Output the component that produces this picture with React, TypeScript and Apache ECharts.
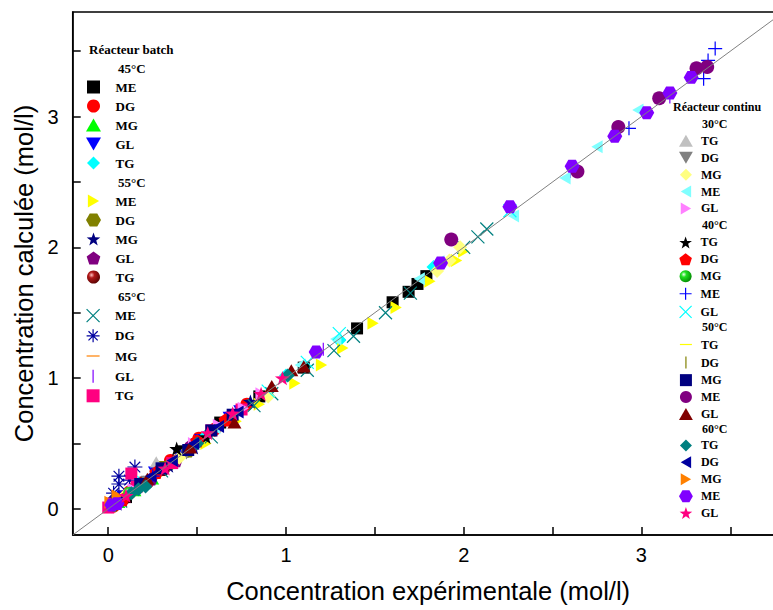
import React, { useEffect, useRef } from 'react';
import * as echarts from 'echarts';

// ---------- axes ----------
const X_TICKS = [0, 0.5, 1, 1.5, 2, 2.5, 3, 3.5];
const X_LABELS = [0, 1, 2, 3];
const Y_TICKS = [0, 0.5, 1, 1.5, 2, 2.5, 3, 3.5];
const Y_LABELS = [0, 1, 2, 3];
const PARITY = [[-0.2, -0.2], [3.8, 3.8]];

// ---------- Réacteur batch ----------
// 45°C
const B45_ME = [[0.02, 0.03], [0.1, 0.09], [0.42, 0.44], [0.63, 0.66], [0.85, 0.86], [1.1, 1.08], [1.4, 1.38], [1.6, 1.58], [1.69, 1.66], [1.74, 1.72], [1.79, 1.78]];
const B45_DG = [[0.03, 0.02], [0.12, 0.13], [0.22, 0.2], [0.35, 0.37], [0.51, 0.54], [0.6, 0.61], [0.78, 0.8]];
const B45_MG = [[0.01, 0.02], [0.06, 0.05], [0.15, 0.14], [0.25, 0.23], [0.33, 0.34]];
const B45_GL = [[0.02, 0.01], [0.08, 0.1], [0.16, 0.17], [0.26, 0.28], [0.4, 0.41], [0.52, 0.53], [0.68, 0.7], [0.74, 0.75]];
const B45_TG = [[0.05, 0.06], [0.18, 0.18], [0.55, 0.56], [1.0, 1.02], [1.3, 1.29], [1.83, 1.85]];
// 55°C
const B55_ME = [[0.12, 0.1], [0.3, 0.27], [0.55, 0.5], [0.72, 0.67], [0.85, 0.8], [1.05, 0.96], [1.2, 1.1], [1.32, 1.23], [1.49, 1.42], [1.62, 1.54], [1.81, 1.74], [1.96, 1.9], [2.0, 1.97]];
const B55_DG = [[0.04, 0.05], [0.14, 0.15], [0.3, 0.32], [0.45, 0.44]];
const B55_MG = [[0.05, 0.04], [0.2, 0.2], [0.34, 0.33], [0.48, 0.47], [0.69, 0.7], [0.8, 0.82]];
const B55_GL = [[0.03, 0.04], [0.11, 0.12], [0.24, 0.23], [0.38, 0.37], [0.47, 0.49]];
const B55_TG = [[0.02, 0.03], [0.09, 0.08], [0.19, 0.2], [0.31, 0.3]];
// 65°C
const B65_ME = [[0.07, 0.06], [0.3, 0.29], [0.58, 0.55], [0.82, 0.79], [0.92, 0.88], [1.12, 1.06], [1.27, 1.21], [1.38, 1.32], [1.56, 1.5], [1.7, 1.65], [2.0, 2.0], [2.08, 2.08], [2.13, 2.14]];
const B65_DG = [[0.04, 0.05], [0.06, 0.19], [0.06, 0.25], [0.15, 0.32], [0.12, 0.22], [0.03, 0.12]];
const B65_MG = [[0.05, 0.05], [0.2, 0.21], [0.4, 0.4]];
const B65_GL = [[0.02, 0.02], [0.1, 0.11], [0.3, 0.3], [1.21, 1.22], [2.6, 2.58], [3.16, 3.15]];
const B65_TG = [[0.0, 0.01], [0.13, 0.27], [0.02, 0.04], [0.16, 0.17], [0.36, 0.35], [0.58, 0.6], [0.75, 0.76]];

// ---------- Réacteur continu ----------
// 30°C
const C30_TG = [[0.07, 0.08], [0.27, 0.36], [0.58, 0.6]];
const C30_DG = [[0.05, 0.04], [0.22, 0.21], [0.44, 0.42]];
const C30_MG = [[0.1, 0.11], [0.4, 0.39], [0.9, 0.86], [1.85, 1.82], [1.92, 1.9], [1.98, 2.0]];
const C30_ME = [[0.6, 0.62], [1.08, 1.1], [1.28, 1.3], [1.75, 1.76], [1.86, 1.89], [2.28, 2.24], [2.57, 2.53], [2.75, 2.77], [2.98, 3.05]];
const C30_GL = [[0.14, 0.15], [0.48, 0.5], [0.62, 0.64], [0.76, 0.77], [0.86, 0.88]];
// 40°C
const C40_TG = [[0.1, 0.1], [0.385, 0.46], [0.55, 0.55]];
const C40_DG = [[0.08, 0.07], [0.27, 0.28], [0.5, 0.52], [0.66, 0.68]];
const C40_MG = [[0.03, 0.03], [0.12, 0.12]];
const C40_ME = [[0.25, 0.25], [2.93, 2.91], [3.35, 3.29], [3.375, 3.43], [3.415, 3.52]];
const C40_GL = [[0.2, 0.2], [0.9, 0.9], [1.12, 1.12], [1.3, 1.34], [2.26, 2.28]];
// 50°C
const C50_TG = [[0.1, 0.1], [0.5, 0.5]];
const C50_DG = [[0.15, 0.15], [0.6, 0.6]];
const C50_MG = [[0.05, 0.06], [0.18, 0.19], [0.3, 0.31], [0.45, 0.45], [0.58, 0.6], [0.7, 0.72]];
const C50_ME = [[1.93, 2.06], [2.64, 2.58], [2.87, 2.92], [3.1, 3.14], [3.31, 3.37], [3.37, 3.38]];
const C50_GL = [[0.22, 0.23], [0.46, 0.47], [0.71, 0.66], [0.92, 0.94], [1.03, 1.06], [1.1, 1.09]];
// 60°C
const C60_TG = [[0.13, 0.12], [0.17, 0.15], [0.21, 0.17], [0.5, 0.5], [1.01, 1.02]];
const C60_DG = [[0.04, 0.04], [0.24, 0.25], [0.36, 0.37], [0.48, 0.5], [0.62, 0.63], [0.73, 0.74]];
const C60_MG = [[0.01, 0.05], [0.05, 0.1]];
const C60_ME = [[0.02, 0.03], [0.05, 0.04], [1.17, 1.2], [1.87, 1.88], [2.26, 2.31], [2.61, 2.62], [2.85, 2.85], [3.03, 3.03], [3.16, 3.18], [3.28, 3.3]];
const C60_GL = [[0.1, 0.1], [0.32, 0.31], [0.56, 0.58], [0.7, 0.73], [0.86, 0.88], [0.98, 1.0]];

// ---------- symbols / styles ----------
const SYM: Record<string, string> = {
  square: 'path://M-10,-10L10,-10L10,10L-10,10Z',
  circle: 'circle',
  tri: 'path://M0,-10L10,7.32L-10,7.32Z',
  itri: 'path://M-10,-7.32L10,-7.32L0,10Z',
  diamond: 'path://M0,-10L10,0L0,10L-10,0Z',
  rtri: 'path://M-7.32,-10L10,0L-7.32,10Z',
  ltri: 'path://M7.32,-10L-10,0L7.32,10Z',
  hex: 'path://M-10,0L-5,-8.66L5,-8.66L10,0L5,8.66L-5,8.66Z',
  star: 'path://M0,-10L2.35,-3.24L9.51,-3.09L3.8,1.23L5.88,8.09L0,4L-5.88,8.09L-3.8,1.23L-9.51,-3.09L-2.35,-3.24Z',
  pent: 'path://M0,-10L9.51,-3.09L5.88,8.09L-5.88,8.09L-9.51,-3.09Z',
  x: 'path://M-10,-10L10,10M10,-10L-10,10',
  plus: 'path://M-10,0L10,0M0,-10L0,10',
  ast: 'path://M-10,0L10,0M0,-10L0,10M-7.07,-7.07L7.07,7.07M7.07,-7.07L-7.07,7.07',
  hline: 'path://M-10,0L10,0M0,-10M0,10',
  vline: 'path://M0,-10L0,10M-10,0M10,0',
};
const STROKED = ['x', 'plus', 'ast', 'hline', 'vline'];

const sphere = (hi: string, mid: string, lo: string) => ({
  type: 'radial', x: 0.35, y: 0.35, r: 0.75,
  colorStops: [{ offset: 0, color: hi }, { offset: 0.3, color: mid }, { offset: 1, color: lo }],
});

type Def = { key: string; label: string; data: number[][]; sym: string; color: any; edge: string; size: number };
const d = (key: string, data: number[][], sym: string, color: any, size: number, edge?: string): Def =>
  ({ key, label: key.split('|')[0], data, sym, color, edge: edge || color, size });

const LEFT_GROUPS: { title: string; items: Def[] }[] = [
  { title: '45°C', items: [
    d('ME|b45', B45_ME, 'square', '#000000', 12),
    d('DG|b45', B45_DG, 'circle', '#FF0000', 13),
    d('MG|b45', B45_MG, 'tri', '#00FF00', 13),
    d('GL|b45', B45_GL, 'itri', '#0000FF', 13),
    d('TG|b45', B45_TG, 'diamond', '#00FFFF', 14),
  ] },
  { title: '55°C', items: [
    d('ME|b55', B55_ME, 'rtri', '#FFFF00', 13),
    d('DG|b55', B55_DG, 'hex', '#808000', 14),
    d('MG|b55', B55_MG, 'star', '#000080', 15),
    d('GL|b55', B55_GL, 'pent', '#800080', 14),
    d('TG|b55', B55_TG, 'circle', sphere('#ffc0c0', '#b01818', '#500000'), 13, '#600000'),
  ] },
  { title: '65°C', items: [
    d('ME|b65', B65_ME, 'x', '#008080', 13),
    d('DG|b65', B65_DG, 'ast', '#0000A0', 15),
    d('MG|b65', B65_MG, 'hline', '#FF8000', 13),
    d('GL|b65', B65_GL, 'vline', '#8000FF', 13),
    d('TG|b65', B65_TG, 'square', '#FF0080', 12),
  ] },
];

const RIGHT_GROUPS: { title: string; items: Def[] }[] = [
  { title: '30°C', items: [
    d('TG|c30', C30_TG, 'tri', '#C0C0C0', 13),
    d('DG|c30', C30_DG, 'itri', '#808080', 13),
    d('MG|c30', C30_MG, 'diamond', '#FFFF80', 14),
    d('ME|c30', C30_ME, 'ltri', '#80FFFF', 13),
    d('GL|c30', C30_GL, 'rtri', '#FF80FF', 13),
  ] },
  { title: '40°C', items: [
    d('TG|c40', C40_TG, 'star', '#000000', 15),
    d('DG|c40', C40_DG, 'pent', '#FF0000', 14),
    d('MG|c40', C40_MG, 'circle', sphere('#f0fff0', '#20e020', '#008000'), 13, '#009000'),
    d('ME|c40', C40_ME, 'plus', '#0000FF', 14),
    d('GL|c40', C40_GL, 'x', '#00FFFF', 13),
  ] },
  { title: '50°C', items: [
    d('TG|c50', C50_TG, 'hline', '#FFFF00', 13),
    d('DG|c50', C50_DG, 'vline', '#808000', 13),
    d('MG|c50', C50_MG, 'square', '#000080', 12),
    d('ME|c50', C50_ME, 'circle', '#800080', 14),
    d('GL|c50', C50_GL, 'tri', '#800000', 14),
  ] },
  { title: '60°C', items: [
    d('TG|c60', C60_TG, 'diamond', '#008080', 14),
    d('DG|c60', C60_DG, 'ltri', '#0000A0', 13),
    d('MG|c60', C60_MG, 'rtri', '#FF8000', 13),
    d('ME|c60', C60_ME, 'hex', '#8000FF', 15),
    d('GL|c60', C60_GL, 'star', '#FF0080', 15),
  ] },
];

const SERIF = "'Liberation Serif', 'Times New Roman', serif";
const SANS = "'Liberation Sans', Arial, sans-serif";

function buildOption() {
  const all: Def[] = [...LEFT_GROUPS, ...RIGHT_GROUPS].flatMap((g) => g.items);
  const series: any[] = all.map((s) => {
    const stroked = STROKED.includes(s.sym);
    return {
      type: 'scatter',
      name: s.key,
      data: s.data,
      symbol: SYM[s.sym],
      symbolSize: s.size,
      symbolKeepAspect: true,
      itemStyle: {
        color: stroked ? 'rgba(0,0,0,0)' : s.color,
        borderColor: s.edge,
        borderWidth: stroked ? 1.2 : 0,
        opacity: 1,
      },
      emphasis: { disabled: true },
    };
  });
  series.push({
    type: 'line',
    data: PARITY,
    symbol: 'none',
    lineStyle: { color: '#808080', width: 1 },
    z: 5,
    silent: true,
  });

  const legendText = (size: number) => ({
    fontFamily: SERIF, fontWeight: 'bold', fontSize: size, color: '#000', lineHeight: size,
  });
  const leftTops = [80.5, 194.5, 308.5];
  const rightTops = [134.8, 236.4, 337.9, 439.4];
  const legends: any[] = [];
  LEFT_GROUPS.forEach((g, i) => {
    legends.push({
      orient: 'vertical', left: 86, top: leftTops[i], padding: 0,
      itemWidth: 34, itemHeight: 13, itemGap: 6, selectedMode: false,
      data: g.items.map((s) => s.key),
      formatter: (n: string) => n.split('|')[0],
      textStyle: legendText(13),
      itemStyle: { borderWidth: 0 },
    });
  });
  RIGHT_GROUPS.forEach((g, i) => {
    legends.push({
      orient: 'vertical', left: 679, top: rightTops[i], padding: 0,
      itemWidth: 20, itemHeight: 12, itemGap: 4.92, selectedMode: false,
      data: g.items.map((s) => s.key),
      formatter: (n: string) => n.split('|')[0],
      textStyle: legendText(12),
      itemStyle: { borderWidth: 0 },
    });
  });
  // stroked symbols need a border in the legend
  legends.forEach((lg) => {
    lg.data = lg.data.map((k: string) => {
      const def = all.find((s) => s.key === k)!;
      return STROKED.includes(def.sym)
        ? { name: k, itemStyle: { borderWidth: 1.2, borderColor: def.edge } }
        : { name: k };
    });
  });

  const txt = (text: string, x: number, y: number, size: number) => ({
    type: 'text', x, y, silent: true,
    style: { text, fontFamily: SERIF, fontWeight: 'bold', fontSize: size, fill: '#000', verticalAlign: 'middle', align: 'left' },
  });
  const graphic = [
    txt('Réacteur batch', 89, 49, 13),
    txt('45°C', 118, 68, 13),
    txt('55°C', 118, 182, 13),
    txt('65°C', 118, 296, 13),
    txt('Réacteur continu', 673, 107, 12),
    txt('30°C', 702, 124, 12),
    txt('40°C', 702, 225.4, 12),
    txt('50°C', 702, 327, 12),
    txt('60°C', 702, 428.5, 12),
  ];

  const axisCommon = {
    type: 'value',
    min: -0.2,
    max: 3.8,
    axisLine: { show: true, onZero: false, lineStyle: { color: '#000', width: 1.5 } },
    splitLine: { show: false },
    nameLocation: 'middle',
    nameTextStyle: { fontFamily: SANS, fontSize: 25.5, color: '#000' },
  };

  return {
    animation: false,
    backgroundColor: '#fff',
    grid: {
      left: 72.7, top: 12, right: -10.6, bottom: 75,
      show: true, borderColor: '#000', borderWidth: 1.5,
      outerBoundsMode: 'none', containLabel: false,
    },
    xAxis: {
      ...axisCommon,
      name: 'Concentration expérimentale (mol/l)',
      nameGap: 43,
      axisTick: { show: true, inside: true, length: 8, customValues: X_TICKS, lineStyle: { color: '#000', width: 1.5 } },
      axisLabel: { customValues: X_LABELS, fontFamily: SANS, fontSize: 20, color: '#000', margin: 10 },
    },
    yAxis: {
      ...axisCommon,
      name: 'Concentration calculée (mol/l)',
      nameGap: 34,
      axisTick: { show: true, inside: true, length: 8, customValues: Y_TICKS, lineStyle: { color: '#000', width: 1.5 } },
      axisLabel: { customValues: Y_LABELS, fontFamily: SANS, fontSize: 20, color: '#000', margin: 14 },
    },
    legend: legends,
    graphic,
    series,
  };
}

export default function App() {
  const ref = useRef<HTMLDivElement>(null);
  useEffect(() => {
    if (!ref.current) return;
    const chart = echarts.init(ref.current, null, { renderer: 'svg' });
    chart.setOption(buildOption() as any);
    return () => chart.dispose();
  }, []);
  return (
    <div
      ref={ref}
      style={{ position: 'fixed', left: 0, top: 0, width: 773, height: 610, background: '#fff', overflow: 'hidden' }}
    />
  );
}
